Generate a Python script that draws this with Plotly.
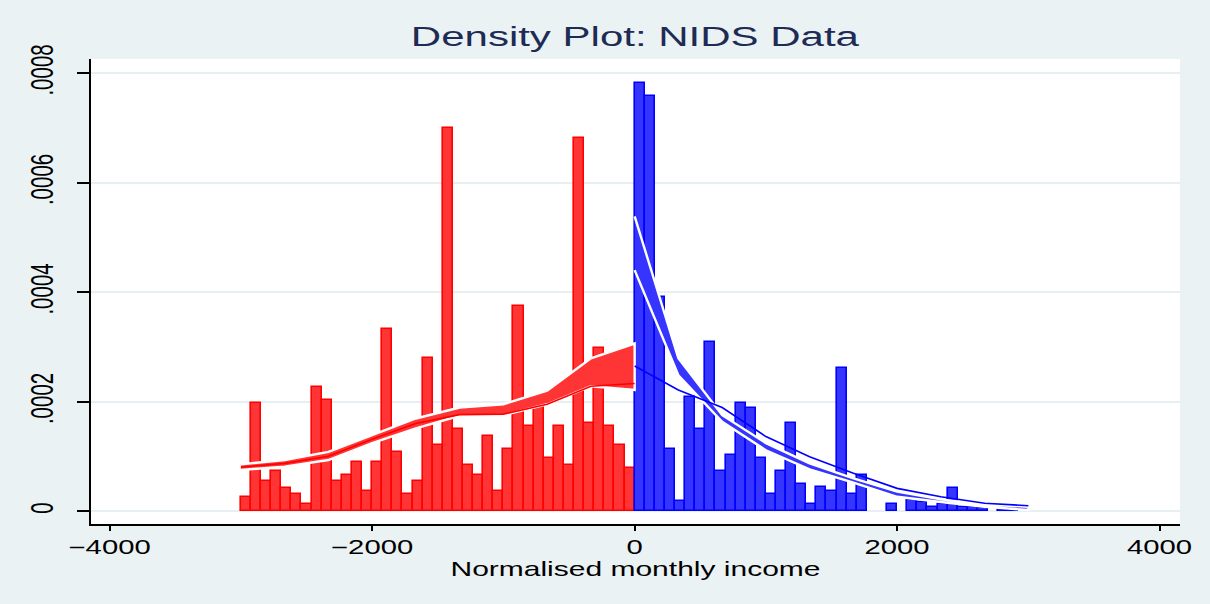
import plotly.graph_objects as go

# ---------------- data ----------------
n_bins = 39
bin_width = 3000 / n_bins

left_heights = [0.000025, 0.000197, 0.000055, 0.000073, 0.0000426, 0.0000305, 0.0000122,
                0.000226, 0.000202, 0.000055, 0.0000664, 0.00009, 0.0000365, 0.00009,
                0.000332, 0.000108, 0.0000305, 0.000055, 0.000279, 0.00012, 0.000699,
                0.000149, 0.0000834, 0.0000658, 0.000137, 0.0000365, 0.000114, 0.000374,
                0.000155, 0.00019, 0.0000962, 0.000155, 0.0000834, 0.000681, 0.000161,
                0.000297, 0.000155, 0.00012, 0.000078]

right_heights = [0.000781, 0.000758, 0.000391, 0.000113, 0.0000188, 0.000208, 0.00015,
                 0.000308, 0.0000725, 0.000102, 0.000197, 0.000189, 0.0000968, 0.000031,
                 0.0000725, 0.00016, 0.0000487, 0.0000128, 0.0000433, 0.0000365, 0.000261,
                 0.000031, 0.0000658, 0, 0, 0.0000128, 0, 0.0000195, 0.000016, 0.0000079,
                 0.0000128, 0.0000414, 0.0000079, 0.0000079, 0.0000055, 0, 0.000004,
                 0.000003, 0]

grid_left = [-3000, -2667, -2333, -2000, -1667, -1333, -1000, -667, -333, 0]
grid_right = [0, 333, 667, 1000, 1333, 1667, 2000, 2333, 2667, 3000]

left_upper = [0.0000853, 0.0000932, 0.000108, 0.000139, 0.000169, 0.000189, 0.000195,
              0.00022, 0.000279, 0.000306]
left_lower = [0.000075, 0.000081, 0.0000932, 0.000124, 0.000151, 0.000174, 0.000175,
              0.000195, 0.000228, 0.000221]
left_fit = [0.00008, 0.000087, 0.0001, 0.000131, 0.00016, 0.000176, 0.000177,
            0.000195, 0.000228, 0.000233]

right_upper = [0.000538, 0.000279, 0.000175, 0.000124, 0.000087, 0.0000597, 0.0000353,
               0.0000213, 0.0000116, 0.0000079]
right_lower = [0.00044, 0.000248, 0.000163, 0.000111, 0.0000762, 0.0000517, 0.000026,
               0.0000164, 0.0000079, 0.0000018]
right_fit = [0.000265, 0.000221, 0.000189, 0.000136, 0.0000992, 0.0000688, 0.0000414,
             0.000026, 0.0000141, 0.0000097]

x_tickvals = [-4000, -2000, 0, 2000, 4000]
x_ticktext = ["\u22124000", "\u22122000", "0", "2000", "4000"]
y_tickvals = [0, 0.0002, 0.0004, 0.0006, 0.0008]
y_ticktext = ["0", ".0002", ".0004", ".0006", ".0008"]

title_text = "Density Plot: NIDS Data"
x_title = "Normalised monthly income"

# ---------------- figure ----------------
left_centers = [-3000 + bin_width * (i + 0.5) for i in range(n_bins)]
right_centers = [bin_width * (i + 0.5) for i in range(n_bins)]

def nz(vals):
    return [v if v > 0 else None for v in vals]

fig = go.Figure()

fig.add_trace(go.Bar(x=left_centers, y=nz(left_heights), width=bin_width,
                     marker=dict(color="#FF3535", line=dict(color="#FF0000", width=1.6)),
                     hoverinfo="skip"))
fig.add_trace(go.Bar(x=right_centers, y=nz(right_heights), width=bin_width,
                     marker=dict(color="#3535FF", line=dict(color="#0000FF", width=1.6)),
                     hoverinfo="skip"))

# confidence bands
fig.add_trace(go.Scatter(x=grid_left + grid_left[::-1], y=left_upper + left_lower[::-1],
                         mode="lines", fill="toself", fillcolor="#FF3535",
                         line=dict(color="white", width=2.4)))
fig.add_trace(go.Scatter(x=grid_right + grid_right[::-1], y=right_upper + right_lower[::-1],
                         mode="lines", fill="toself", fillcolor="#3535FF",
                         line=dict(color="white", width=2.4)))
# fitted lines
fig.add_trace(go.Scatter(x=grid_left, y=left_fit, mode="lines",
                         line=dict(color="#FF0000", width=1.6)))
fig.add_trace(go.Scatter(x=grid_right, y=right_fit, mode="lines",
                         line=dict(color="#0000FF", width=1.6)))

font_fam = "Liberation Sans, Arial, sans-serif"

fig.update_layout(
    width=1210, height=604,
    margin=dict(l=91, r=30, t=59, b=80),
    paper_bgcolor="#EAF2F3",
    plot_bgcolor="white",
    barmode="overlay",
    bargap=0,
    showlegend=False,
    font=dict(family=font_fam, color="black"),
    title=dict(text=title_text, x=0.5 + (635 - 635.5) / 1089, xref="paper",
               y=1 - 36 / 604, yref="container",
               xanchor="center", yanchor="middle",
               font=dict(family=font_fam, size=28, color="#1E2B55")),
)

fig.update_xaxes(
    range=[-4142, 4155],
    tickvals=x_tickvals, ticktext=x_ticktext,
    ticks="outside", ticklen=5, tickwidth=1.5, tickcolor="black",
    tickfont=dict(size=19.5, family=font_fam),
    showline=True, linecolor="black", linewidth=1.5,
    showgrid=False, zeroline=False,
    title=dict(text=x_title, font=dict(size=20, family=font_fam), standoff=4),
)
fig.update_yaxes(
    range=[-0.0000237, 0.0008256],
    tickvals=y_tickvals, ticktext=y_ticktext, tickangle=-90,
    ticks="outside", ticklen=12, tickwidth=1.5, tickcolor="black",
    tickfont=dict(size=20.5, family=font_fam),
    ticklabelstandoff=20,
    showline=True, linecolor="black", linewidth=1.5,
    showgrid=True, gridcolor="#E8EFF2", gridwidth=2,
    zeroline=False,
)

# remove the page margin and widen the glyphs horizontally (the reference text is
# horizontally stretched by about 1.5x); each text is scaled about its own centre.
post_js = """
document.body.style.margin = '0px';
var gd = document.getElementById('{plot_id}');
var svgs = gd.querySelectorAll('svg.main-svg');
var root = svgs[0];
gd.querySelectorAll('text').forEach(function(t){
  try {
    var bb = t.getBBox();
    if (!bb || bb.width === 0) return;
    var ctm = t.getCTM();
    var pctm = t.parentNode.getCTM();
    var pt = root.createSVGPoint();
    pt.x = bb.x + bb.width / 2; pt.y = bb.y + bb.height / 2;
    var c = pt.matrixTransform(ctm);
    var S = root.createSVGMatrix().translate(c.x, c.y).scaleNonUniform(1.5, 1).translate(-c.x, -c.y);
    var M = pctm.inverse().multiply(S).multiply(ctm);
    t.setAttribute('transform', 'matrix(' + [M.a, M.b, M.c, M.d, M.e, M.f].join(',') + ')');
  } catch (e) {}
});
"""

fig.write_html("out.html", post_script=post_js, config={"displayModeBar": False})
